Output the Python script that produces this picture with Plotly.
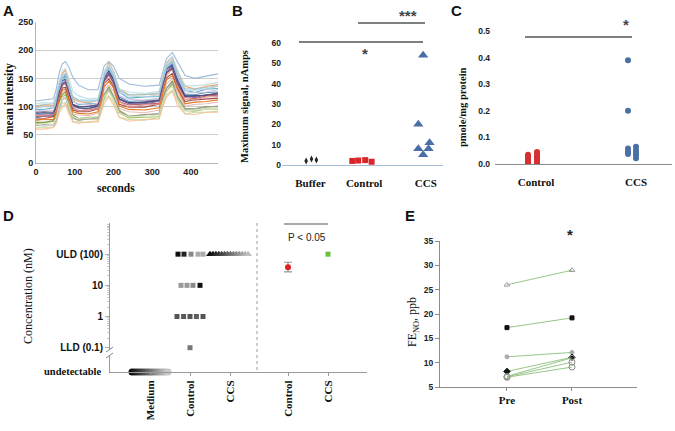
import plotly.graph_objects as go

W, H = 675, 431
def px(x): return x / W
def py(y): return 1 - y / H

SANS = "Liberation Sans, Arial, sans-serif"
SERIF = "Liberation Serif, Times New Roman, serif"

# ---------------- DATA ----------------
# Panel A: mean intensity traces (seconds)
A_TIME = [0, 20, 45, 52, 60, 68, 76, 85, 95, 110, 135, 160, 167, 176, 188, 200, 215, 240, 280, 318, 327, 337, 352, 365, 385, 410, 440, 470]
A_CELL_01 = [110, 112, 114, 130, 160, 176, 180, 170, 152, 138, 130, 130, 150, 172, 180, 172, 150, 140, 136, 138, 160, 185, 196, 180, 155, 150, 154, 158]
A_CELL_02 = [100, 103, 102, 117, 142, 158, 165, 142, 114, 109, 107, 111, 131, 158, 178, 163, 131, 121, 121, 123, 151, 176, 188, 163, 136, 131, 136, 139]
A_CELL_03 = [80, 83, 84, 96, 132, 149, 156, 128, 104, 99, 101, 103, 121, 151, 166, 148, 117, 109, 111, 112, 141, 166, 177, 149, 121, 121, 125, 126]
A_CELL_04 = [78, 79, 82, 91, 121, 137, 143, 119, 97, 93, 94, 97, 114, 146, 157, 141, 109, 103, 104, 106, 136, 159, 171, 139, 116, 114, 119, 120]
A_CELL_05 = [70, 71, 74, 81, 106, 117, 121, 99, 81, 76, 78, 78, 93, 114, 129, 114, 89, 80, 81, 82, 106, 127, 139, 114, 93, 92, 96, 96]
A_CELL_06 = [85, 87, 86, 98, 126, 141, 147, 124, 101, 97, 96, 100, 117, 149, 161, 147, 113, 105, 105, 109, 137, 161, 173, 144, 119, 116, 121, 122]
A_CELL_07 = [95, 95, 98, 107, 136, 149, 154, 131, 111, 103, 105, 106, 126, 154, 171, 154, 125, 115, 117, 118, 146, 169, 183, 154, 129, 125, 131, 132]
A_CELL_08 = [82, 84, 83, 94, 117, 133, 134, 116, 94, 91, 91, 96, 111, 141, 149, 136, 104, 99, 99, 104, 129, 151, 159, 134, 109, 112, 113, 115]
A_CELL_09 = [75, 77, 76, 87, 109, 126, 127, 109, 87, 85, 84, 88, 99, 129, 139, 127, 97, 91, 89, 94, 117, 141, 149, 126, 101, 104, 105, 108]
A_CELL_10 = [62, 64, 63, 73, 91, 106, 107, 91, 73, 73, 72, 75, 87, 111, 119, 109, 81, 77, 76, 80, 99, 121, 129, 109, 87, 90, 90, 92]
A_CELL_11 = [60, 60, 63, 69, 89, 99, 105, 87, 74, 70, 73, 73, 87, 105, 117, 103, 81, 74, 77, 78, 99, 117, 127, 103, 87, 86, 90, 90]
A_CELL_12 = [88, 89, 88, 100, 127, 146, 149, 129, 103, 98, 97, 101, 119, 151, 164, 149, 114, 107, 107, 111, 139, 166, 174, 149, 119, 119, 120, 124]
A_CELL_13 = [105, 107, 106, 119, 144, 164, 167, 151, 127, 119, 114, 115, 131, 163, 175, 163, 131, 126, 123, 127, 151, 179, 189, 166, 137, 137, 139, 143]
A_CELL_14 = [72, 72, 75, 82, 109, 121, 126, 103, 85, 79, 81, 81, 97, 121, 135, 119, 93, 83, 86, 87, 113, 133, 145, 119, 97, 96, 100, 100]
A_CELL_15 = [92, 94, 93, 105, 129, 149, 151, 133, 109, 105, 103, 106, 121, 153, 167, 153, 119, 113, 111, 115, 141, 169, 179, 153, 124, 125, 126, 130]
A_CELL_16 = [76, 78, 77, 89, 111, 129, 131, 113, 91, 88, 87, 91, 105, 135, 145, 133, 101, 95, 94, 98, 123, 147, 155, 131, 105, 108, 109, 112]
A_CELL_17 = [98, 100, 99, 112, 137, 156, 159, 141, 117, 111, 108, 111, 127, 159, 171, 159, 125, 119, 117, 121, 147, 173, 183, 159, 129, 129, 131, 136]
A_CELL_18 = [84, 84, 86, 94, 123, 137, 141, 119, 99, 92, 95, 96, 115, 141, 156, 139, 109, 99, 103, 104, 133, 155, 167, 137, 113, 112, 117, 118]
A_CELL_19 = [66, 68, 67, 76, 98, 112, 116, 96, 79, 76, 78, 80, 94, 120, 132, 117, 90, 83, 85, 88, 110, 132, 141, 117, 95, 96, 99, 101]
A_CELL_20 = [102, 103, 105, 114, 140, 154, 158, 138, 118, 112, 111, 112, 128, 155, 168, 154, 128, 121, 121, 124, 148, 171, 180, 158, 132, 131, 134, 137]
A_CELL_21 = [90, 91, 90, 101, 126, 140, 143, 124, 104, 100, 100, 103, 118, 146, 158, 143, 113, 106, 108, 111, 137, 160, 168, 142, 118, 118, 121, 123]
A_CELL_22 = [68, 70, 71, 80, 104, 116, 118, 99, 82, 79, 80, 82, 95, 118, 126, 113, 88, 82, 83, 85, 108, 126, 136, 112, 92, 94, 96, 97]
A_TICKS_X = [0, 100, 200, 300, 400]

# Panel B: maximum signal, nAmps
B_CATEGORIES = ["Buffer", "Control", "CCS"]
B_BUFFER = [2.0, 3.0, 2.5]
B_CONTROL = [2.0, 2.2, 2.4, 1.6]
B_CCS = [54, 20, 8, 5, 11, 8]

# Panel C: pmole/mg protein
C_CATEGORIES = ["Control", "CCS"]
C_CONTROL_A = [0.035, 0.030, 0.022, 0.015, 0.008, 0.002]
C_CONTROL_B = [0.045, 0.040, 0.032, 0.025, 0.018, 0.010, 0.003]
C_CCS_A = [0.39, 0.20, 0.058, 0.047, 0.038]
C_CCS_B = [0.065, 0.052, 0.042, 0.033, 0.022]

# Panel D: concentration (nM); "undetectable" plotted at 0.0166
D_TICKVALS = [0.0166, 0.1, 1, 10, 100]
D_TICKTEXT = ["undetectable", "LLD (0.1)", "1", "10", "ULD (100)"]
D_MEDIUM = [0.0166, 0.0166, 0.0166, 0.0166, 0.0166, 0.0166, 0.0166, 0.0166, 0.0166, 0.0166, 0.0166, 0.0166, 0.0166, 0.0166]
D_CONTROL = [100, 100, 100, 100, 100, 10, 10, 10, 10, 1, 1, 1, 1, 1, 0.1]
D_CCS = [100, 100, 100, 100, 100, 100, 100, 100, 100, 100, 100, 100, 100, 100]
D_SUM_CATEGORIES = ["Control", "CCS"]
D_SUM_MEAN = [38, 100]
D_SUM_ERR_PLUS = [17, 0]
D_SUM_ERR_MINUS = [11, 0]

# Panel E: FeNO, ppb
E_CATEGORIES = ["Pre", "Post"]
E_PRE = [26.0, 17.2, 11.2, 8.2, 7.1, 7.0, 7.2]
E_POST = [29.0, 19.2, 12.1, 11.1, 10.1, 9.1, 11.0]

# ---------------- FIGURE ----------------
fig = go.Figure()

# Panel A
a_cells = [A_CELL_01, A_CELL_02, A_CELL_03, A_CELL_04, A_CELL_05, A_CELL_06, A_CELL_07, A_CELL_08, A_CELL_09,
           A_CELL_10, A_CELL_11, A_CELL_12, A_CELL_13, A_CELL_14, A_CELL_15, A_CELL_16, A_CELL_17, A_CELL_18,
           A_CELL_19, A_CELL_20, A_CELL_21, A_CELL_22]
a_colors = ["#95B3D7", "#F79646", "#4F81BD", "#C0504D", "#9BBB59", "#8064A2", "#4BACC6", "#953735", "#E6B9B8",
            "#C3D69B", "#FAC090", "#1F497D", "#B7DEE8", "#77933C", "#CCC1DA", "#E46C0A", "#B9CDE5", "#D99694",
            "#A6A6A6", "#92CDDC", "#604A7B", "#D7E4BD"]
for vals, col in zip(a_cells, a_colors):
    fig.add_trace(go.Scatter(x=A_TIME, y=vals, mode="lines", line=dict(color=col, width=1.1),
                             opacity=0.9, xaxis="x", yaxis="y", showlegend=False, hoverinfo="skip"))

# Panel B
b_pos = {"Buffer": 0.0, "Control": 1.0, "CCS": 2.15}
b_buf_off = [-0.08, 0.02, 0.11]
b_con_off = [-0.22, -0.11, 0.02, 0.14]
b_ccs_off = [-0.05, -0.14, -0.14, -0.05, 0.07, 0.05]
fig.add_trace(go.Scatter(x=[b_pos["Buffer"] + o for o in b_buf_off], y=B_BUFFER, mode="markers",
                         marker=dict(symbol="diamond-tall", size=5, color="#222"), xaxis="x2", yaxis="y2", showlegend=False))
fig.add_trace(go.Scatter(x=[b_pos["Control"] + o for o in b_con_off], y=B_CONTROL, mode="markers",
                         marker=dict(symbol="square", size=6, color="#d9262b"), xaxis="x2", yaxis="y2", showlegend=False))
fig.add_trace(go.Scatter(x=[b_pos["CCS"] + o for o in b_ccs_off], y=B_CCS, mode="markers",
                         marker=dict(symbol="triangle-up", size=9, color="#4a6ea8"), xaxis="x2", yaxis="y2", showlegend=False))

# Panel C
fig.add_trace(go.Scatter(x=[-0.08] * len(C_CONTROL_A), y=C_CONTROL_A, mode="markers",
                         marker=dict(size=6, color="#d63030"), xaxis="x3", yaxis="y3", showlegend=False))
fig.add_trace(go.Scatter(x=[0.01] * len(C_CONTROL_B), y=C_CONTROL_B, mode="markers",
                         marker=dict(size=6, color="#d63030"), xaxis="x3", yaxis="y3", showlegend=False))
fig.add_trace(go.Scatter(x=[0.92] * len(C_CCS_A), y=C_CCS_A, mode="markers",
                         marker=dict(size=6, color="#4a6fa5"), xaxis="x3", yaxis="y3", showlegend=False))
fig.add_trace(go.Scatter(x=[1.0] * len(C_CCS_B), y=C_CCS_B, mode="markers",
                         marker=dict(size=6, color="#4a6fa5"), xaxis="x3", yaxis="y3", showlegend=False))

# Panel D
def gray(t):
    v = int(round(t))
    return "rgb(%d,%d,%d)" % (v, v, v)
n_med = len(D_MEDIUM)
med_x = [1 + (-0.45 + 0.9 * i / (n_med - 1)) for i in range(n_med)]
med_c = [gray(10 + 190 * i / (n_med - 1)) for i in range(n_med)]
fig.add_trace(go.Scatter(x=med_x, y=D_MEDIUM, mode="markers", cliponaxis=False,
                         marker=dict(symbol="circle", size=7, color=med_c), xaxis="x4", yaxis="y4", showlegend=False))
con_off = [-0.3, -0.15, 0.025, 0.2, 0.325, -0.225, -0.075, 0.075, 0.25, -0.325, -0.16, 0.0, 0.16, 0.325, 0.0]
con_col = ["#111", "#222", "#888", "#aaa", "#aaa", "#999", "#999", "#888", "#111",
           "#555", "#5a5a5a", "#555", "#606060", "#555", "#777"]
fig.add_trace(go.Scatter(x=[2 + o for o in con_off], y=D_CONTROL, mode="markers",
                         marker=dict(symbol="square", size=5, color=con_col), xaxis="x4", yaxis="y4", showlegend=False))
n_ccs = len(D_CCS)
ccs_x = [3 + (-0.5 + 0.95 * i / (n_ccs - 1)) for i in range(n_ccs)]
ccs_c = [gray(10 + 180 * i / (n_ccs - 1)) for i in range(n_ccs)]
fig.add_trace(go.Scatter(x=ccs_x, y=D_CCS, mode="markers",
                         marker=dict(symbol="triangle-up", size=7, color=ccs_c), xaxis="x4", yaxis="y4", showlegend=False))
fig.add_trace(go.Scatter(x=[4.45], y=[D_SUM_MEAN[0]], mode="markers",
                         error_y=dict(type="data", symmetric=False, array=[D_SUM_ERR_PLUS[0]], arrayminus=[D_SUM_ERR_MINUS[0]],
                                      color="#999", thickness=1.2, width=4),
                         marker=dict(symbol="circle", size=6, color="#e0201e"), xaxis="x4", yaxis="y4", showlegend=False))
fig.add_trace(go.Scatter(x=[5.45], y=[D_SUM_MEAN[1]], mode="markers",
                         marker=dict(symbol="square", size=5, color="#66c23a"), xaxis="x4", yaxis="y4", showlegend=False))

# Panel E
e_sym = ["triangle-up-open", "square", "circle", "diamond", "circle-open", "circle-open", "circle-open"]
e_col = ["#999", "#111", "#aaa", "#111", "#888", "#888", "#999"]
e_size = [5, 4, 4, 5, 6, 6, 5]
for pre, post, s, c, z in zip(E_PRE, E_POST, e_sym, e_col, e_size):
    fig.add_trace(go.Scatter(x=[0, 1], y=[pre, post], mode="lines+markers",
                             line=dict(color="#8cc07a", width=0.9),
                             marker=dict(symbol=s, size=z, color=c, line=dict(color=c, width=1)),
                             xaxis="x5", yaxis="y5", showlegend=False))

# ---------------- LAYOUT ----------------
tick_sans = dict(family=SANS, size=9, color="#222", weight="bold")
tick_serif = dict(family=SERIF, size=11, color="#111", weight="bold")

minor_vals = [m * 10 ** k for k in (-1, 0, 1, 2) for m in range(2, 10)]

common = dict(automargin=False, showgrid=False, zeroline=False)

fig.update_layout(
    width=W, height=H, margin=dict(l=0, r=0, t=0, b=0, autoexpand=False),
    paper_bgcolor="white", plot_bgcolor="white", showlegend=False,
    xaxis=dict(common, domain=[px(36), px(218)], range=[0, 470], tickvals=A_TICKS_X,
               showline=True, linecolor="#b5b5b5", ticks="", tickfont=tick_sans, anchor="y"),
    yaxis=dict(common, domain=[py(163), py(22)], range=[0, 250], dtick=50, showgrid=True, gridcolor="#cdcdcd",
               showline=True, linecolor="#b5b5b5", ticks="", tickfont=tick_sans, anchor="x"),
    xaxis2=dict(common, domain=[px(282), px(443)], range=[-0.53, 2.47], tickvals=[b_pos[c] for c in B_CATEGORIES],
                ticktext=B_CATEGORIES, showline=True, linecolor="#a9bcd6",
                ticks="", tickfont=tick_serif, ticklabelstandoff=8, anchor="y2"),
    yaxis2=dict(common, domain=[py(165), py(43)], range=[0, 60], dtick=10,
                showline=False, ticks="", tickfont=dict(family=SANS, size=8.5, color="#222", weight="bold"), anchor="x2"),
    xaxis3=dict(common, domain=[px(495), px(672)], range=[-0.41, 1.36], tickvals=[0, 1], ticktext=C_CATEGORIES,
                showline=True, linecolor="#8c8c8c", ticks="",
                tickfont=tick_serif, ticklabelstandoff=8, anchor="y3"),
    yaxis3=dict(common, domain=[py(164), py(31)], range=[0, 0.5], dtick=0.1, tickformat=".1f",
                showline=False, ticks="", ticklabelstandoff=4,
                tickfont=dict(family=SANS, size=8.5, color="#222", weight="bold"), anchor="x3"),
    xaxis4=dict(common, domain=[px(110), px(367)], range=[0, 6.425], tickvals=[1, 2, 3, 4.45, 5.45],
                ticktext=["Medium", "Control", "CCS", "Control", "CCS"], tickangle=-90,
                showline=True, linecolor="#9a9a9a", ticks="outside",
                ticklen=3, tickcolor="#9a9a9a", tickfont=tick_serif, anchor="y4"),
    yaxis4=dict(common, domain=[py(372), py(223)], type="log", range=[-1.78, 3.0], tickvals=D_TICKVALS[1:],
                ticktext=D_TICKTEXT[1:],
                showline=True, linecolor="#9a9a9a", ticks="outside",
                ticklen=4, tickcolor="#b0b0b0",
                minor=dict(tickvals=minor_vals, ticks="outside", ticklen=2, tickcolor="#c8c8c8"),
                tickfont=dict(family=SANS, size=10, color="#111", weight="bold"), anchor="x4"),
    xaxis5=dict(common, domain=[px(440), px(637)], range=[-1.03, 2.0], tickvals=[0, 1], ticktext=E_CATEGORIES,
                showline=True, linecolor="#8c8c8c", ticks="outside",
                ticklen=3, tickcolor="#8c8c8c", tickfont=tick_serif, anchor="y5"),
    yaxis5=dict(common, domain=[py(387), py(241)], range=[5, 35], dtick=5,
                showline=True, linecolor="#8c8c8c", ticks="outside", ticklen=4, tickcolor="#8c8c8c",
                tickfont=dict(family=SANS, size=8.5, color="#222", weight="bold"), anchor="x5"),
)

anns = []
def ann(text, x, y, size, family=SANS, bold=True, angle=0, color="#111", xanchor="center", yanchor="middle"):
    anns.append(dict(text=text, x=px(x), y=py(y), xref="paper", yref="paper", showarrow=False,
                     xanchor=xanchor, yanchor=yanchor, textangle=angle,
                     font=dict(family=family, size=size, color=color, weight="bold" if bold else "normal")))

ann("A", 8, 11, 15)
ann("B", 237, 10, 15)
ann("C", 456, 10, 15)
ann("D", 8, 215, 15)
ann("E", 410, 215, 15)
ann("mean intensity", 10, 99, 11.5, SERIF, angle=-90)
ann("seconds", 116, 188, 11.5, SERIF)
ann("Maximum signal, nAmps", 244, 106, 10.5, SERIF, angle=-90)
ann("pmole/mg protein", 463, 107, 10.5, SERIF, angle=-90)
ann("Concentration (nM)", 28, 296, 12, SERIF, bold=False, angle=-90)
ann(D_TICKTEXT[0], 104, 371, 10.5, SERIF, xanchor="right")
ann("FE<sub>NO</sub>, ppb", 413, 322, 12, SERIF, bold=False, angle=-90)
ann("P < 0.05", 307, 238, 10, SANS, bold=False, color="#222")
ann("***", 408, 15, 15, SANS, color="#444")
ann("*", 365, 54, 15, SANS, color="#444")
ann("*", 626, 24, 15, SANS, color="#444")
ann("*", 570, 234, 15, SANS, color="#222")
fig.update_layout(annotations=anns)

shapes = []
def seg(x0, y0, x1, y1, color="#555", width=1.5, dash="solid"):
    shapes.append(dict(type="line", xref="paper", yref="paper", x0=px(x0), y0=py(y0), x1=px(x1), y1=py(y1),
                       line=dict(color=color, width=width, dash=dash)))
seg(358, 23, 425, 23)
seg(299, 42, 423, 42)
seg(525, 37, 632, 37)
seg(284, 224, 328, 224, width=1.2)
seg(257, 223, 257, 372, color="#9a9a9a", width=1, dash="dot")
# axis break on D
shapes.append(dict(type="rect", xref="paper", yref="paper", x0=px(108), x1=px(112), y0=py(355), y1=py(350),
                   fillcolor="white", line=dict(width=0)))
seg(106, 352, 113, 347, color="#888", width=1)
seg(106, 358, 113, 353, color="#888", width=1)
fig.update_layout(shapes=shapes)

fig.write_html("out.html", config={"displayModeBar": False},
               post_script="document.body.style.margin='0';document.body.style.padding='0';")
